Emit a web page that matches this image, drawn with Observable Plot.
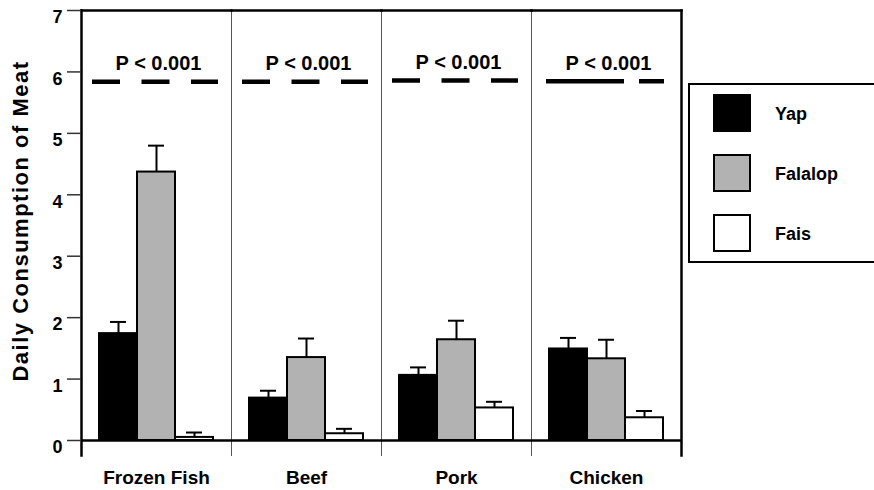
<!DOCTYPE html>
<html>
<head>
<meta charset="utf-8">
<script src="https://cdn.jsdelivr.net/npm/d3@7"></script>
<script src="https://cdn.jsdelivr.net/npm/@observablehq/plot@0.6"></script>
<style>
  html, body { margin: 0; padding: 0; background: #fff; }
  #wrap { position: relative; width: 874px; height: 490px; overflow: hidden; font-family: "Liberation Sans", Arial, sans-serif; }
  #legend { position: absolute; left: 688px; top: 83px; width: 200px; height: 180px; box-sizing: border-box; border: 2px solid #000; background: #fff; }
  .sw { position: absolute; left: 23px; width: 38px; height: 38px; box-sizing: border-box; border: 2px solid #000; }
  .lb { position: absolute; left: 85px; height: 38px; line-height: 40px; font-size: 18px; font-weight: bold; color: #000; }
  .ylab text { letter-spacing: 1.5px; }
</style>
</head>
<body>
<div id="wrap"></div>
<script>
// ---- data ----
const categories = ["Frozen Fish", "Beef", "Pork", "Chicken"];
const groups = ["Yap", "Falalop", "Fais"];
const yapMean = [1.74, 0.69, 1.06, 1.49];
const yapSE = [0.19, 0.12, 0.13, 0.18];
const falalopMean = [4.37, 1.35, 1.64, 1.33];
const falalopSE = [0.43, 0.31, 0.31, 0.31];
const faisMean = [0.05, 0.11, 0.53, 0.37];
const faisSE = [0.08, 0.08, 0.10, 0.11];
const pText = ["P < 0.001", "P < 0.001", "P < 0.001", "P < 0.001"];
const pLevel = [5.84, 5.84, 5.86, 5.85];
const yTicks = [0, 1, 2, 3, 4, 5, 6, 7];
const yLabel = "Daily Consumption of Meat";
const groupColors = ["#000000", "#b2b2b2", "#ffffff"];

const means = [yapMean, falalopMean, faisMean];
const ses = [yapSE, falalopSE, faisSE];
const rows = [];
categories.forEach((c, i) => groups.forEach((g, j) => rows.push({category: c, group: g, value: means[j][i], se: ses[j][i]})));
const sig = categories.map((c, i) => ({category: c, level: pLevel[i], text: pText[i]}));

const font = "'Liberation Sans', Arial, sans-serif";

const plot = Plot.plot({
  width: 874,
  height: 490,
  marginLeft: 79,
  marginRight: 192,
  marginTop: 10,
  marginBottom: 50,
  style: {fontFamily: font, fontWeight: "bold", color: "#000", background: "#fff", overflow: "visible"},
  fx: {domain: categories, padding: 0},
  x: {domain: groups, paddingInner: 0, paddingOuter: 0.47, axis: null},
  y: {domain: [0, 7], axis: null},
  color: {domain: groups, range: groupColors},
  marks: [
    Plot.frame({anchor: "left", stroke: "#555", strokeWidth: 1, insetBottom: -15}),
    // error bars (upper only)
    Plot.ruleX(rows, {fx: "category", x: "group", y1: "value", y2: d => d.value + d.se, stroke: "#000", strokeWidth: 2}),
    Plot.tickY(rows, {fx: "category", x: "group", y: d => d.value + d.se, stroke: "#000", strokeWidth: 2, insetLeft: 11, insetRight: 11}),
    Plot.barY(rows, {fx: "category", x: "group", y: "value", fill: "group", stroke: "#000", strokeWidth: 2}),
    Plot.ruleY([0], {stroke: "#000", strokeWidth: 2.5}),
    Plot.frame({anchor: "top", stroke: "#000", strokeWidth: 2.5}),
    Plot.frame({anchor: "left", facetAnchor: "left", stroke: "#000", strokeWidth: 2.5, insetBottom: -15}),
    Plot.frame({anchor: "right", facetAnchor: "right", stroke: "#000", strokeWidth: 2.5, insetBottom: -15}),
    // significance annotations
    Plot.ruleY(sig.filter(d => d.category !== "Chicken"), {fx: "category", y: "level", stroke: "#000", strokeWidth: 4.5, strokeDasharray: "28,21.5", insetLeft: 11, insetRight: 13}),
    Plot.ruleY(sig.filter(d => d.category === "Chicken"), {fx: "category", y: "level", stroke: "#000", strokeWidth: 4.5, strokeDasharray: "78,15", insetLeft: 15, insetRight: 17}),
    Plot.text(sig, {fx: "category", text: "text", y: "level", dy: -18, dx: 2, fontSize: 20, fontWeight: "bold", fill: "#000"}),
    // axes: tick lines, then labels shifted down
    Plot.axisY({ticks: yTicks, tickFormat: () => "", tickSize: 14, stroke: "#333", strokeWidth: 1.5, label: null}),
    Plot.axisY({ticks: yTicks, tickFormat: "d", tickSize: 0, tickPadding: 19, fontSize: 18, fontWeight: "bold", fill: "#000", dy: 7, label: null}),
    Plot.text([yLabel], {fx: () => categories[0], text: d => d, frameAnchor: "left", textAnchor: "middle", rotate: -90, dx: -61, dy: -4.5, fontSize: 22, fontWeight: "bold", fill: "#000", className: "ylab"}),
    Plot.axisFx({anchor: "bottom", tickSize: 0, tickPadding: 30, fontSize: 19, fontWeight: "bold", label: null})
  ]
});

const wrap = document.getElementById("wrap");
wrap.appendChild(plot);

// legend
const legend = document.createElement("div");
legend.id = "legend";
groups.forEach((g, i) => {
  const sw = document.createElement("div");
  sw.className = "sw";
  sw.style.top = (9 + i * 60) + "px";
  sw.style.background = groupColors[i];
  legend.appendChild(sw);
  const lb = document.createElement("div");
  lb.className = "lb";
  lb.style.top = (9 + i * 60) + "px";
  lb.textContent = g;
  legend.appendChild(lb);
});
wrap.appendChild(legend);
</script>
</body>
</html>
